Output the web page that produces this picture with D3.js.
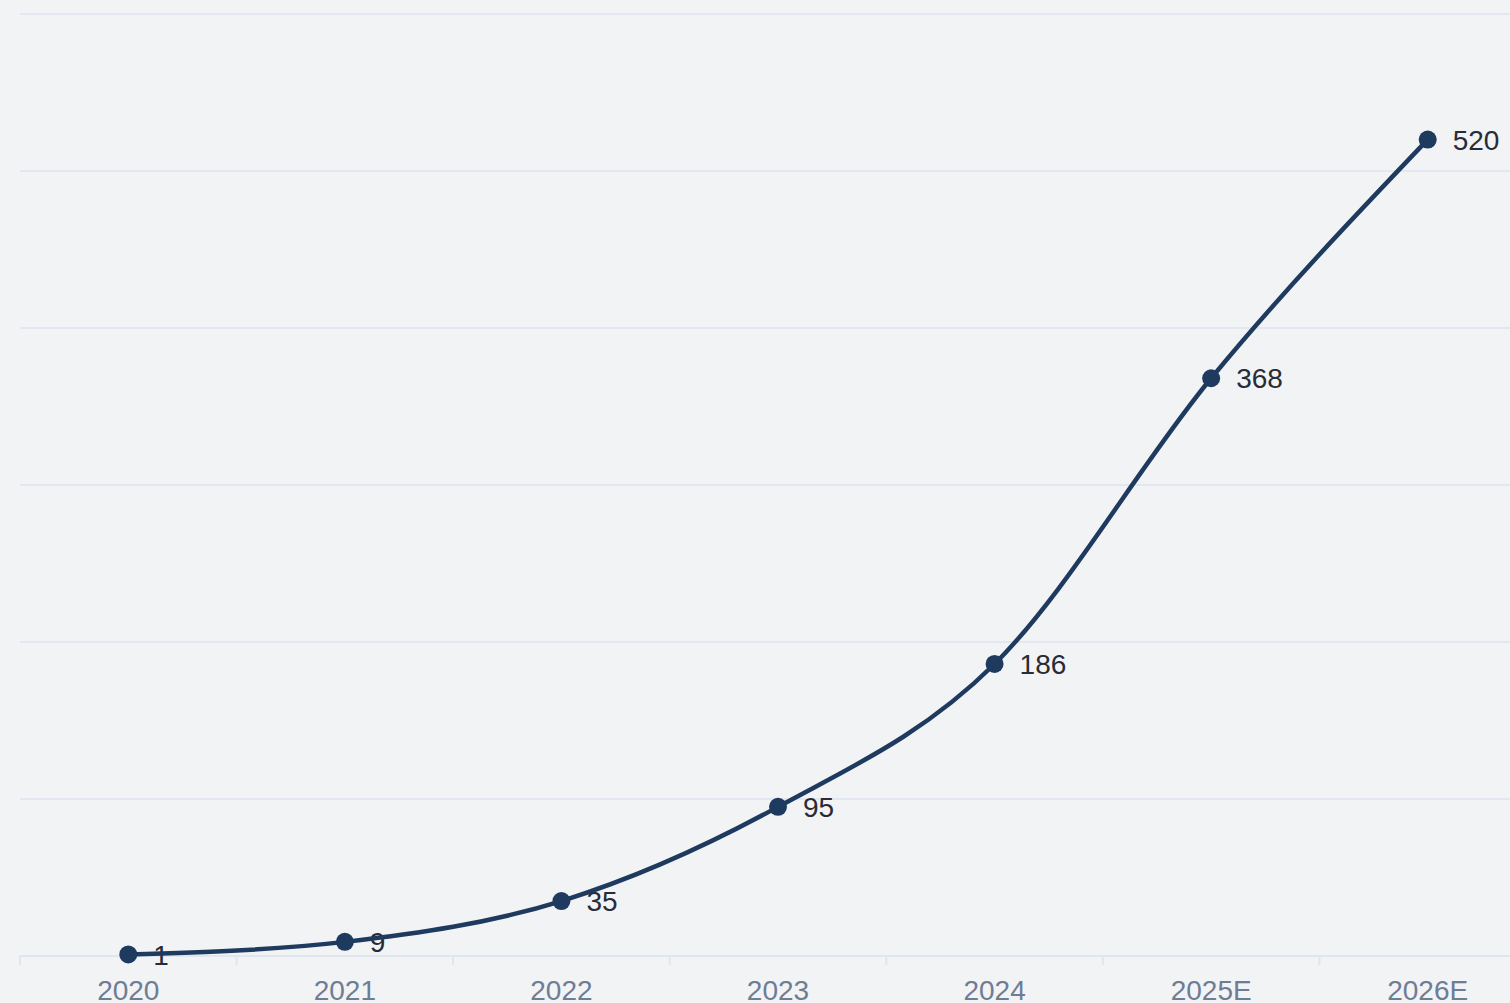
<!DOCTYPE html>
<html>
<head>
<meta charset="utf-8">
<script src="https://cdn.jsdelivr.net/npm/d3@7"></script>
<style>
  html, body { margin: 0; padding: 0; background: #f2f3f5; }
  svg { display: block; font-family: "Liberation Sans", Arial, sans-serif; }
</style>
</head>
<body>
<svg id="chart" width="1510" height="1003"></svg>
<script>
const years = ['2020', '2021', '2022', '2023', '2024', '2025E', '2026E'];
const values = [1, 9, 35, 95, 186, 368, 520];
const yTicks = [0, 100, 200, 300, 400, 500, 600];

const svg = d3.select('#chart');

const x = d3
  .scaleBand()
  .domain(years)
  .range([20, 1536]);

const y = d3
  .scaleLinear()
  .domain([0, 600])
  .range([956, 14]);

// grid lines
svg.append('g')
  .selectAll('line')
  .data(yTicks.slice(1))
  .join('line')
  .attr('x1', 20)
  .attr('x2', 1510)
  .attr('y1', d => y(d))
  .attr('y2', d => y(d))
  .attr('stroke', '#e2e7f1')
  .attr('stroke-width', 2);

// x axis
const xAxis = svg.append('g')
  .attr('transform', `translate(0,${y(0)})`)
  .call(d3.axisBottom(x).tickSize(0).tickPadding(0));
xAxis.select('.domain').remove();
xAxis.selectAll('text')
  .attr('y', 44)
  .attr('dy', null)
  .attr('fill', '#6e7c94')
  .attr('font-size', 28)
  .attr('font-family', '"Liberation Sans", Arial, sans-serif');

xAxis.append('line')
  .attr('x1', 20)
  .attr('x2', 1510)
  .attr('stroke', '#e0e6f0')
  .attr('stroke-width', 2);

xAxis.selectAll('.bound')
  .data(years)
  .join('line')
  .attr('class', 'bound')
  .attr('x1', d => x(d))
  .attr('x2', d => x(d))
  .attr('y1', 0)
  .attr('y2', 9)
  .attr('stroke', '#e0e6f0')
  .attr('stroke-width', 2);

const cx = d => x(d) + x.bandwidth() / 2;
const pts = years.map((d, i) => [cx(d), y(values[i])]);

// value labels (under the line, like the original)
svg.append('g')
  .selectAll('text')
  .data(values)
  .join('text')
  .attr('x', (d, i) => pts[i][0] + 25)
  .attr('y', (d, i) => pts[i][1])
  .attr('dy', '0.36em')
  .attr('fill', '#272c38')
  .attr('font-size', 28)
  .text(d => d);

const line = d3.line().curve(d3.curveMonotoneX);

svg.append('path')
  .attr('d', line(pts))
  .attr('fill', 'none')
  .attr('stroke', '#1e3a5f')
  .attr('stroke-width', 4.5);

svg.append('g')
  .selectAll('circle')
  .data(pts)
  .join('circle')
  .attr('cx', d => d[0])
  .attr('cy', d => d[1])
  .attr('r', 9)
  .attr('fill', '#1e3a5f');
</script>
</body>
</html>
